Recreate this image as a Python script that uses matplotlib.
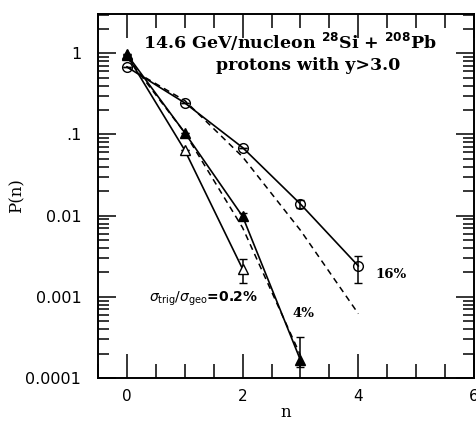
import matplotlib
matplotlib.use("Agg")
import matplotlib.pyplot as plt
from matplotlib.ticker import FixedLocator, LogLocator, NullFormatter

# data
n_circ = [0, 1, 2, 3, 4]
p_circ = [0.68, 0.245, 0.069, 0.0139, 0.0024]
err_circ_lo = [0, 0, 0, 0.0015, 0.0009]
err_circ_hi = [0, 0, 0, 0.0017, 0.0008]

n_full = [0, 1, 2, 3]
p_full = [0.97, 0.105, 0.0098, 0.000166]
err_full_lo = [0, 0, 0.0009, 0.00003]
err_full_hi = [0, 0, 0.0010, 0.000154]

n_open = [0, 1, 2]
p_open = [0.95, 0.064, 0.0022]
err_open_lo = [0, 0, 0.0007]
err_open_hi = [0, 0, 0.0007]

n_dash1 = [0, 1, 2, 3, 4]
p_dash1 = [0.68, 0.262, 0.053, 0.0066, 0.00062]
n_dash2 = [0, 1, 2, 3]
p_dash2 = [0.9, 0.105, 0.0071, 0.00019]

xticks = [0, 2, 4, 6]
yticks = [1e-4, 1e-3, 1e-2, 1e-1, 1]
ylabels = ["0.0001", "0.001", "0.01", ".1", "1"]

fig = plt.figure(figsize=(4.76, 4.22), dpi=100)
ax = fig.add_axes([98 / 476, 1 - 378 / 422, 376 / 476, 364 / 422])

ax.plot(n_dash1, p_dash1, ls=(0, (4, 3)), color="black", lw=1.1)
ax.plot(n_dash2, p_dash2, ls=(0, (4, 3)), color="black", lw=1.1)

ax.errorbar(n_open, p_open, yerr=[err_open_lo, err_open_hi], color="black", lw=1.2,
            marker="^", ms=7, mfc="white", mec="black", capsize=3, elinewidth=1.1)
ax.errorbar(n_full, p_full, yerr=[err_full_lo, err_full_hi], color="black", lw=1.2,
            marker="^", ms=7, mfc="black", mec="black", capsize=3, elinewidth=1.1)
ax.errorbar(n_circ, p_circ, yerr=[err_circ_lo, err_circ_hi], color="black", lw=1.2,
            marker="o", ms=7, mfc="none", mec="black", capsize=3, elinewidth=1.1)

ax.set_yscale("log")
ax.set_xlim(-0.5, 6)
ax.set_ylim(1e-4, 3.05)

ax.xaxis.set_major_locator(FixedLocator(xticks))
ax.xaxis.set_minor_locator(FixedLocator([i * 0.5 for i in range(-1, 12)]))
ax.set_xticklabels([str(t) for t in xticks], fontsize=11, family="DejaVu Sans")
ax.yaxis.set_major_locator(FixedLocator(yticks))
ax.yaxis.set_minor_locator(LogLocator(base=10, subs=range(2, 10)))
ax.yaxis.set_minor_formatter(NullFormatter())
ax.set_yticklabels(ylabels, fontsize=11.5, family="DejaVu Sans")

ax.tick_params(which="both", direction="in", top=True, right=True, width=1.1)
ax.tick_params(which="major", length=13, pad=12)
ax.tick_params(axis="x", which="major", length=17, pad=8)
ax.tick_params(which="minor", length=8)
ax.tick_params(axis="x", which="minor", length=10)
for s in ax.spines.values():
    s.set_linewidth(1.4)

ax.set_xlabel("n", family="DejaVu Serif", fontsize=12, labelpad=0)
ax.set_ylabel("P(n)", family="DejaVu Serif", fontsize=12, labelpad=0)

serif = dict(family="DejaVu Serif", fontweight="bold", color="black")
ax.text(0.51, 0.922, r"14.6 GeV/nucleon $^{\bf 28}$Si + $^{\bf 208}$Pb",
        transform=ax.transAxes, ha="center", va="center", fontsize=12.5, **serif)
ax.text(0.56, 0.858, "protons with y>3.0", transform=ax.transAxes,
        ha="center", va="center", fontsize=12.5, **serif)
ax.text(4.3, 0.0019, "16%", ha="left", va="center", fontsize=9.5, **serif)
ax.text(3.05, 0.00063, "4%", ha="center", va="center", fontsize=9.5, **serif)
ax.text(2.26, 0.00095, r"$\sigma_{\rm trig}/\sigma_{\rm geo}$=0.2%", ha="right",
        va="center", fontsize=10, family="DejaVu Sans", fontweight="bold")

fig.savefig("out.png", dpi=100)
